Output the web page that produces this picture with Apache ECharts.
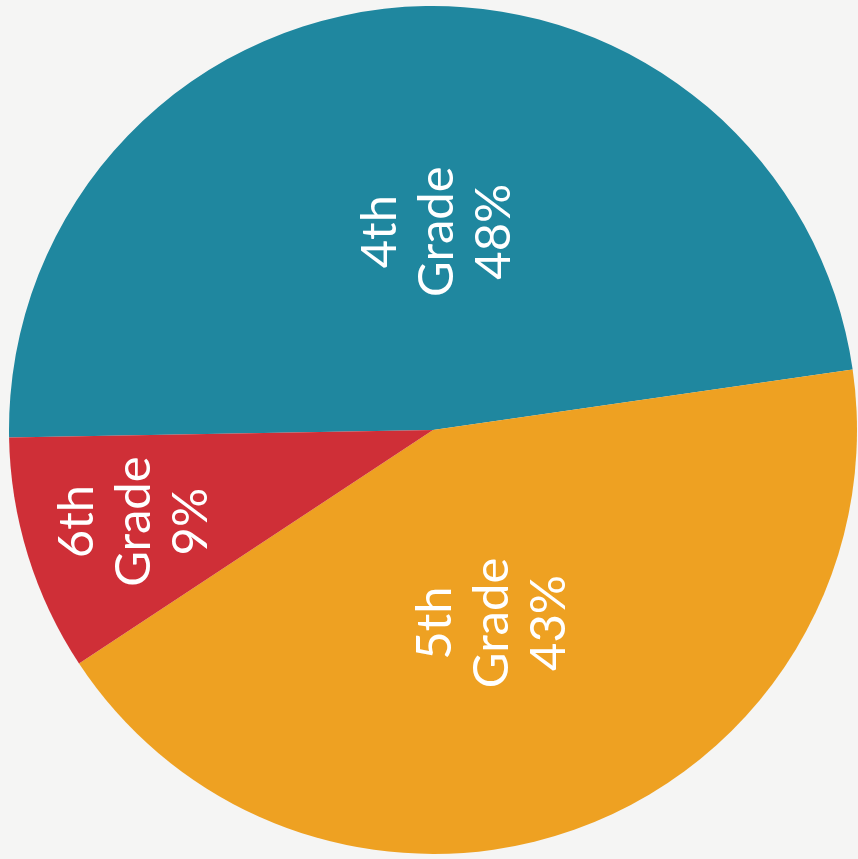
<!DOCTYPE html>
<html>
<head>
<meta charset="utf-8">
<script src="https://cdn.jsdelivr.net/npm/echarts@6/dist/echarts.min.js"></script>
<style>
  html, body { margin: 0; padding: 0; background: #f5f5f4; }
  #chart { width: 858px; height: 859px; }
</style>
</head>
<body>
<div id="chart"></div>
<script>
  const grades = ['4th\nGrade', '5th\nGrade', '6th\nGrade']
  const shares = [48, 43, 9]
  const colors = ['#1f879f', '#eea122', '#cf2f37']

  // nudges for the rotated labels (in the label's own rotated frame)
  const labelNudge = [
    { dx: -16, dy: 21 },
    { dx: 8, dy: -17 },
    { dx: -28, dy: -93 }
  ]

  const chart = echarts.init(document.getElementById('chart'))
  chart.setOption({
    backgroundColor: '#f5f5f4',
    animation: false,
    series: [
      {
        type: 'pie',
        center: [433, 430],
        radius: [0, 424],
        startAngle: 181,
        clockwise: true,
        data: grades.map((name, i) => ({
          name,
          value: shares[i],
          itemStyle: { color: colors[i] }
        })),
        label: {
          show: true,
          position: 'inside',
          rotate: 90,
          color: '#fff',
          fontFamily: 'Lato',
          fontWeight: 'normal',
          fontSize: 49,
          lineHeight: 57,
          formatter: p => p.name + '\n' + p.value + '%'
        },
        labelLine: { show: false },
        emphasis: { disabled: true },
        labelLayout: params => labelNudge[params.dataIndex]
      }
    ]
  })
</script>
</body>
</html>
